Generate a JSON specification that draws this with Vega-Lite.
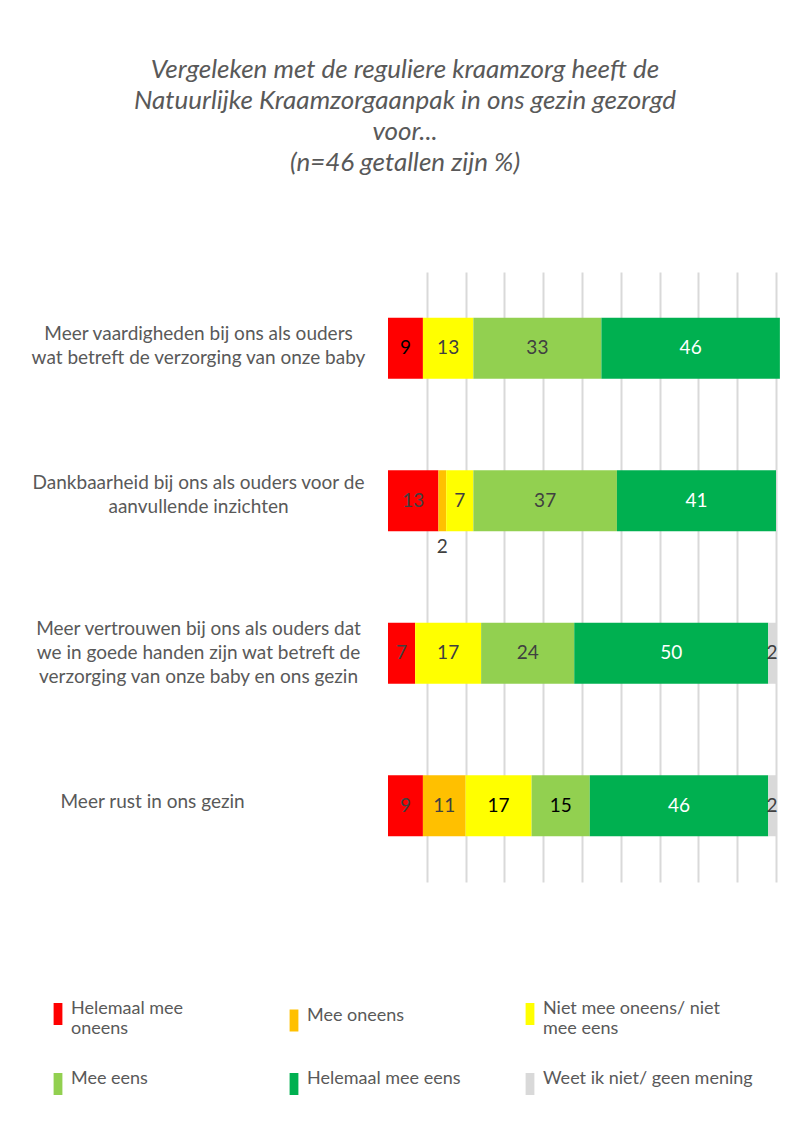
{
  "$schema": "https://vega.github.io/schema/vega-lite/v6.json",
  "width": 388,
  "height": 610,
  "autosize": {"type": "none"},
  "padding": {"left": 388, "top": 272, "right": 34, "bottom": 252},
  "background": "white",
  "config": {
    "view": {"stroke": null},
    "font": "Lato",
    "text": {"font": "Lato"}
  },
  "title": {
    "text": ["Vergeleken met de reguliere kraamzorg heeft de", "Natuurlijke Kraamzorgaanpak in ons gezin gezorgd", "voor...", "(n=46 getallen zijn %)"],
    "fontStyle": "italic",
    "fontWeight": "normal",
    "fontSize": 26,
    "lineHeight": 31,
    "color": "#595959",
    "font": "Lato",
    "anchor": "middle",
    "dx": -177,
    "offset": 96
  },
  "data": {
    "values": [
      {"q": "Meer vaardigheden bij ons als ouders|wat betreft de verzorging van onze baby", "cat": "Helemaal mee oneens", "v": 9},
      {"q": "Meer vaardigheden bij ons als ouders|wat betreft de verzorging van onze baby", "cat": "Niet mee oneens/ niet mee eens", "v": 13},
      {"q": "Meer vaardigheden bij ons als ouders|wat betreft de verzorging van onze baby", "cat": "Mee eens", "v": 33},
      {"q": "Meer vaardigheden bij ons als ouders|wat betreft de verzorging van onze baby", "cat": "Helemaal mee eens", "v": 46},
      {"q": "Dankbaarheid bij ons als ouders voor de|aanvullende inzichten", "cat": "Helemaal mee oneens", "v": 13},
      {"q": "Dankbaarheid bij ons als ouders voor de|aanvullende inzichten", "cat": "Mee oneens", "v": 2},
      {"q": "Dankbaarheid bij ons als ouders voor de|aanvullende inzichten", "cat": "Niet mee oneens/ niet mee eens", "v": 7},
      {"q": "Dankbaarheid bij ons als ouders voor de|aanvullende inzichten", "cat": "Mee eens", "v": 37},
      {"q": "Dankbaarheid bij ons als ouders voor de|aanvullende inzichten", "cat": "Helemaal mee eens", "v": 41},
      {"q": "Meer vertrouwen bij ons als ouders dat|we in goede handen zijn wat betreft de|verzorging van onze baby en ons gezin", "cat": "Helemaal mee oneens", "v": 7},
      {"q": "Meer vertrouwen bij ons als ouders dat|we in goede handen zijn wat betreft de|verzorging van onze baby en ons gezin", "cat": "Niet mee oneens/ niet mee eens", "v": 17},
      {"q": "Meer vertrouwen bij ons als ouders dat|we in goede handen zijn wat betreft de|verzorging van onze baby en ons gezin", "cat": "Mee eens", "v": 24},
      {"q": "Meer vertrouwen bij ons als ouders dat|we in goede handen zijn wat betreft de|verzorging van onze baby en ons gezin", "cat": "Helemaal mee eens", "v": 50},
      {"q": "Meer vertrouwen bij ons als ouders dat|we in goede handen zijn wat betreft de|verzorging van onze baby en ons gezin", "cat": "Weet ik niet/ geen mening", "v": 2},
      {"q": "Meer rust in ons gezin", "cat": "Helemaal mee oneens", "v": 9},
      {"q": "Meer rust in ons gezin", "cat": "Mee oneens", "v": 11},
      {"q": "Meer rust in ons gezin", "cat": "Niet mee oneens/ niet mee eens", "v": 17},
      {"q": "Meer rust in ons gezin", "cat": "Mee eens", "v": 15},
      {"q": "Meer rust in ons gezin", "cat": "Helemaal mee eens", "v": 46},
      {"q": "Meer rust in ons gezin", "cat": "Weet ik niet/ geen mening", "v": 2}
    ]
  },
  "transform": [
    {"lookup": "cat", "from": {"data": {"values": [
      {"cat": "Helemaal mee oneens", "o": 1},
      {"cat": "Mee oneens", "o": 2},
      {"cat": "Niet mee oneens/ niet mee eens", "o": 3},
      {"cat": "Mee eens", "o": 4},
      {"cat": "Helemaal mee eens", "o": 5},
      {"cat": "Weet ik niet/ geen mening", "o": 6}
    ]}, "key": "cat", "fields": ["o"]}},
    {"stack": "v", "groupby": ["q"], "sort": [{"field": "o", "order": "ascending"}], "as": ["v0", "v1"]},
    {"calculate": "(datum.v0 + datum.v1) / 2", "as": "vm"}
  ],
  "encoding": {
    "y": {
      "field": "q",
      "type": "nominal",
      "sort": [
        "Meer vaardigheden bij ons als ouders|wat betreft de verzorging van onze baby",
        "Dankbaarheid bij ons als ouders voor de|aanvullende inzichten",
        "Meer vertrouwen bij ons als ouders dat|we in goede handen zijn wat betreft de|verzorging van onze baby en ons gezin",
        "Meer rust in ons gezin"
      ],
      "scale": {"paddingInner": 0.6, "paddingOuter": 0.3},
      "axis": {
        "title": null,
        "domain": false,
        "ticks": false,
        "labelExpr": "split(datum.label, '|')",
        "labelFont": "Lato",
        "labelFontSize": 19,
        "labelLineHeight": 24,
        "labelColor": "#595959",
        "labelLimit": 400,
        "labelAlign": {"condition": {"test": "datum.value == 'Meer rust in ons gezin'", "value": "left"}, "value": "center"},
        "labelPadding": {"condition": {"test": "datum.value == 'Meer rust in ons gezin'", "value": 328}, "value": 190},
        "labelOffset": {"condition": [
          {"test": "length(split(datum.value, '|')) == 3", "value": -24},
          {"test": "indexof(datum.value, 'Dankbaarheid') == 0", "value": -18},
          {"test": "length(split(datum.value, '|')) == 2", "value": -14}
        ], "value": -4}
      }
    }
  },
  "layer": [
    {
      "mark": {"type": "bar"},
      "encoding": {
        "x": {
          "field": "v0",
          "type": "quantitative",
          "scale": {"domain": [0, 100], "nice": false},
          "axis": {
            "title": null,
            "labels": false,
            "ticks": false,
            "domain": false,
            "grid": true,
            "values": [10, 20, 30, 40, 50, 60, 70, 80, 90, 100],
            "gridColor": "#d9d9d9",
            "gridWidth": 2
          }
        },
        "x2": {"field": "v1"},
        "color": {
          "field": "cat",
          "type": "nominal",
          "sort": ["Helemaal mee oneens", "Mee oneens", "Niet mee oneens/ niet mee eens", "Mee eens", "Helemaal mee eens", "Weet ik niet/ geen mening"],
          "scale": {
            "domain": ["Helemaal mee oneens", "Mee oneens", "Niet mee oneens/ niet mee eens", "Mee eens", "Helemaal mee eens", "Weet ik niet/ geen mening"],
            "range": ["#FF0000", "#FFC000", "#FFFF00", "#92D050", "#00B050", "#D9D9D9"]
          },
          "legend": {
            "title": null,
            "orient": "none",
            "direction": "horizontal",
            "legendX": -341,
            "legendY": 731,
            "columns": 3,
            "gridAlign": "all",
            "columnPadding": 2,
            "rowPadding": 32,
            "symbolType": "M-0.4,-1H0.4V1H-0.4Z",
            "symbolSize": 484,
            "symbolStrokeWidth": 0,
            "symbolOpacity": 1,
            "labelFont": "Lato",
            "labelFontSize": 18,
            "labelColor": "#595959",
            "labelOffset": 2,
            "labelLimit": 300,
            "labelBaseline": "alphabetic",
            "labelLineHeight": 24,
            "labelExpr": "datum.label == 'Helemaal mee oneens' ? ['Helemaal mee', 'oneens'] : datum.label == 'Niet mee oneens/ niet mee eens' ? ['Niet mee oneens/ niet', 'mee eens'] : datum.label"
          }
        }
      }
    },
    {
      "transform": [{"filter": "!(datum.cat == 'Mee oneens' && datum.v < 3)"}],
      "mark": {"type": "text", "font": "Lato", "fontSize": 19, "baseline": "middle"},
      "encoding": {
        "x": {"field": "vm", "type": "quantitative"},
        "text": {"field": "v", "type": "quantitative"},
        "color": {
          "condition": [
            {"test": "datum.cat == 'Helemaal mee eens'", "value": "#FFFFFF"},
            {"test": "(datum.q == 'Meer rust in ons gezin' && (datum.cat == 'Mee eens' || datum.cat == 'Niet mee oneens/ niet mee eens')) || (indexof(datum.q, 'Meer vaardigheden') == 0 && datum.cat == 'Helemaal mee oneens')", "value": "#000000"}
          ],
          "value": "#404040"
        }
      }
    },
    {
      "transform": [{"filter": "datum.cat == 'Mee oneens' && datum.v < 3"}],
      "mark": {"type": "text", "font": "Lato", "fontSize": 19, "baseline": "middle", "dy": 46, "color": "#404040"},
      "encoding": {
        "x": {"field": "vm", "type": "quantitative"},
        "text": {"field": "v", "type": "quantitative"}
      }
    }
  ]
}
